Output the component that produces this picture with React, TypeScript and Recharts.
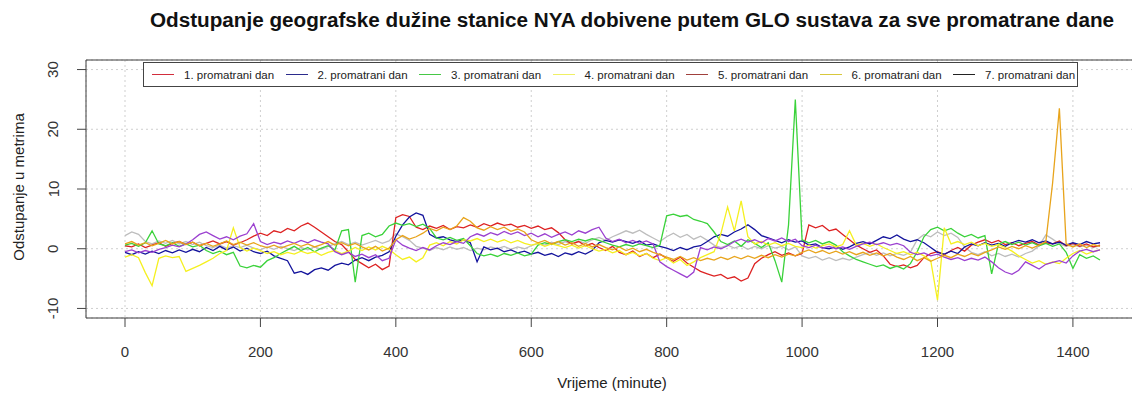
import React from 'react';
import { LineChart, Line, XAxis, YAxis, CartesianGrid, ReferenceArea } from 'recharts';

// minutes of the day, one reading every 10 minutes
const minutes = Array.from({ length: 145 }, (_, i) => i * 10);
const xTicks = [0, 200, 400, 600, 800, 1000, 1200, 1400];
const yTicks = [-10, 0, 10, 20, 30];

const legendLabels = [
  '1. promatrani dan',
  '2. promatrani dan',
  '3. promatrani dan',
  '4. promatrani dan',
  '5. promatrani dan',
  '6. promatrani dan',
  '7. promatrani dan',
];
const legendColors = ['#d22d3c', '#2b2b8c', '#46c846', '#f0f064', '#a0403c', '#d8c83c', '#222222'];

const redDay = [
  0.5, 0.3, 0.8, 0.2, 0.6, 1.0, 0.4, 0.9, 1.2, 0.7,
  1.1, 0.5, 0.9, 1.3, 0.8, 1.2, 0.6, 1.0, 1.5, 2.1,
  2.6, 2.2, 3.0, 2.7, 3.4, 3.0, 3.8, 4.3, 3.6, 2.8,
  2.0, 1.2, 0.7, -0.5, -1.8, -2.5, -3.2, -2.6, -3.5, -2.9,
  5.2, 5.7, 5.4, 3.6, 3.2, 3.8, 3.4, 3.9, 3.2, 3.7,
  3.5, 4.0, 3.6, 4.2, 3.8, 4.3, 3.9, 4.1, 3.6, 3.9,
  3.4, 3.8, 3.2, 3.5, 2.7, 1.5, 0.8, 1.2, 0.5, 0.9,
  0.2, -0.3, 0.4, -0.6, -1.0, -0.4, -1.3, -0.8, -1.5, -0.9,
  -1.6, -2.1, -1.4, -2.4, -3.1, -3.8, -4.2, -4.6, -4.3, -5.0,
  -4.7, -5.4, -4.9, -2.5, -1.6, -1.0, -0.5, -1.1, -0.7, -1.2,
  -0.8, 4.0, 3.5, 3.9, 3.0, 3.3, 2.4, 1.5, 0.6, 0.0,
  -0.6, -0.2, -1.2, -2.6, -3.0, -2.7, -3.2, -2.8, -1.5, -0.8,
  -0.5, -1.0, -0.3, 0.2, -0.4, 0.6, 1.1, 1.5, 1.0, 1.4,
  0.7, 1.0, 0.5, 0.9, 1.2, 0.6, 1.0, 0.8, 1.3, 0.5,
  0.9, 0.4, 0.8, 0.3, 0.6,
];

const navyDay = [
  -0.6, -1.0, -0.5, -0.9, -0.4, -0.8, -0.3, -0.7, -0.2, -0.6,
  -0.1, -0.5, 0.2, -0.3, 0.4, -0.2, 0.3, -0.4, 0.1, -0.5,
  -0.8, -0.4, -1.2, -1.6, -2.0, -4.1, -3.8, -4.3, -3.5, -3.2,
  -3.6, -2.8, -2.4, -2.7, -1.9, -1.5, -2.0, -1.4, -1.1, -0.5,
  2.1, 4.0, 5.3, 6.0, 5.6, 2.4, 1.8, 2.0, 1.5, 1.2,
  1.5, 1.0, -2.2, 0.3, -0.2, 0.1, -0.5, -0.2, -0.7, -0.4,
  -0.9, -0.6, -1.1, -0.8, -1.3, -0.7, -1.0, -0.5, -0.9, -0.3,
  1.0, 1.4, 1.1, 1.5, 1.2, 0.9, 1.3, 0.6, 0.8, 0.4,
  0.1, -0.3, 0.2, -0.2, 0.3, 0.5, 1.2, 2.0, 2.4, 2.1,
  2.8, 3.3, 4.0, 3.2, 2.2, 1.8, 1.4, 1.0, 1.5, 1.1,
  1.3, 0.6, 0.8, 0.2, 0.0, 0.4, -0.1, 0.3, 0.9, 1.2,
  0.8, 1.4, 2.0, 1.7, 2.3, 1.6, 1.2, 1.5, 1.0, 0.2,
  -0.6, -0.9, -0.4, -0.8, 0.3, 0.8, 0.5, 1.0, 0.6, 0.9,
  0.4, 1.0, 1.4, 1.1, 1.5, 1.0, 1.3, 0.8, 1.1, 0.6,
  1.0, 0.7, 1.2, 0.8, 1.0,
];

const greenDay = [
  0.6, 0.9, 0.4, 1.0, 3.0, 0.8, 0.5, 1.0, 0.4, 0.8,
  0.3, 0.6, -0.3, -0.8, -0.4, -1.0, -0.6, -2.9, -3.2, -2.8,
  -3.1, -2.0, -1.5, -0.8, -0.2, 0.4, -0.3, 0.2, -0.5, 0.1,
  0.5, -0.2, 3.0, 3.2, -5.6, 2.2, 2.6, 2.0, 2.4, 3.8,
  4.3, 3.9, 4.2, 3.7, 4.1, 3.4, 1.8, 1.5, 1.9, 1.4,
  1.7, 0.5, -0.8, -1.2, -0.9, -1.3, -0.8, -1.1, -0.7, -1.2,
  -0.9, 0.6, 1.0, 0.7, 1.2, 1.5, 1.2, 1.6, 1.3, 1.7,
  1.4, 1.0, 0.6, 0.3, 0.7, 0.4, 0.8, 0.5, 0.2, 0.6,
  5.5, 5.8, 5.4, 5.6, 4.9, 4.6, 4.2, 2.8, 1.2, 0.7,
  1.3, 0.4, 1.5, 0.9, 0.2, 1.0, -2.0, -5.6, 4.0, 25.0,
  1.5, 1.0, 1.4, 0.8, 1.2, 0.6, -0.5, -1.2, -1.8, -2.2,
  -2.6, -3.0, -2.7, -3.3, -2.9, -3.4, -2.5, -0.5, 2.0, 3.2,
  3.6, 3.0, 3.4, 2.6, 2.0, 2.4, 1.8, 2.2, -4.2, 0.8,
  1.2, 0.7, 1.1, 0.6, 1.0, 0.5, 0.9, 0.4, 0.8, -0.6,
  -3.3, -1.0, -1.6, -1.2, -1.9,
];

const yellowDay = [
  -1.4, -1.0, -1.5, -4.0, -6.2, -1.6, -1.2, -1.5, -1.3, -3.8,
  -3.3, -2.8, -2.2, -1.6, -0.8, -0.3, 3.5, 0.2, -0.4, 0.1,
  -0.3, -0.8, -0.5, -1.0, -0.6, -0.9, -0.4, -0.8, -0.5, -1.1,
  -0.6, -0.3, -0.8, -0.4, 0.2, -0.3, 0.3, -0.2, 0.4, -0.1,
  -1.0, -1.8, -1.4, -2.2, -1.5, 0.6, 1.0, 0.5, 1.2, 0.8,
  1.5, 1.3, 1.7, 1.2, 1.6, 1.1, 1.5, 1.0, 1.4, 0.9,
  0.6, 0.9, 0.4, 0.8, 0.5, 0.2, 0.6, 0.1, 0.5, 0.0,
  -0.4, -0.1, -0.7, -0.3, -1.0, -0.6, -1.2, -0.8, -1.6, -2.0,
  -1.5, -2.4, -1.8, -2.8, -2.2, -1.5, -1.0, -0.5, 2.5, 7.0,
  3.0, 8.0, 2.0, 0.8, 1.2, 0.6, 1.0, 0.5, 0.9, 0.4,
  0.2, 0.6, 0.1, 0.5, 0.8, 0.3, 0.7, 3.0, 0.6, 0.9,
  0.4, 0.8, 0.2, -0.3, -0.8, -0.5, -1.0, -0.6, -1.2, -2.0,
  -8.6, 3.5, 0.8, 1.2, 0.7, 1.1, 0.5, 0.9, 0.4, 0.7,
  0.2, -0.4, -1.2, -1.8, -2.4, -2.0, -2.6, -2.2, -2.5, -1.6,
  -0.8, -0.3, -0.9, -0.5, -0.2,
];

const purpleDay = [
  -0.5, -0.2, -0.7, -0.3, -0.6, -0.1, 0.2, 0.6, 0.3, 0.8,
  1.5, 2.4, 2.8, 2.2, 1.6, 2.0, 1.5, 2.1, 2.5, 4.2,
  1.2, 0.7, 1.1, 0.8, 1.3, 0.9, 1.4, 1.0, 1.5, 1.1,
  0.8, -0.5, -1.0, -0.6, -1.3, -0.9, -1.5, -1.0, -2.0, -1.6,
  1.5, 0.6, 0.1, -0.3, 0.2, -0.2, 0.5, 1.0, 0.7, 1.2,
  0.9, 2.0, 2.5, 2.1, 2.7, 2.3, 2.9, 2.4, 2.8, 2.2,
  2.6, 2.0, 2.5, 1.9, 2.4, 2.8, 2.3, 3.0, 2.6, 3.2,
  3.6, 1.8, 1.2, 1.6, 1.0, 1.4, 0.9, 1.3, 0.8, -2.2,
  -3.0, -3.6, -4.2, -4.8, -3.9, 0.2, -0.2, 0.3, 0.0, 0.5,
  1.2, 1.6, 1.1, 1.5, 1.0, 1.7, 1.3, 1.8, 1.2, 1.6,
  0.5, 0.2, 0.6, 0.1, 0.4, 0.0, 0.3, -0.1, 0.4, 0.8,
  1.1, 0.7, 1.0, 0.6, 0.9, 0.5, -0.6, -1.0, -0.7, -1.2,
  -0.9, -1.4, -1.8, -1.5, -2.0, -1.6, -1.9, -1.4, -2.2, -3.2,
  -3.9, -4.3, -3.6, -2.2, -2.8, -3.4, -2.6, -2.3, -2.0, -2.4,
  -1.2, -0.4, -0.1, -0.5, -0.2,
];

const orangeDay = [
  0.8, 1.2, 0.6, 1.0, 0.5, 0.9, 1.4, 0.8, 1.2, 0.7,
  1.1, 0.5, 0.9, 0.4, 0.8, 1.3, 0.7, 1.1, 0.6, 1.0,
  0.5, 0.2, 0.6, 0.1, 0.5, 0.9, 0.4, 0.8, 0.3, 0.7,
  1.2, 0.6, 1.0, 0.5, 0.9, 0.3, -0.2, 0.4, -0.4, 0.1,
  1.5, 2.2, 1.6, 2.0, 2.6, 3.4, 3.0, 3.6, 3.2, 3.8,
  5.2, 4.6, 3.5, 3.1, 3.7, 3.2, 3.6, 2.9, 3.3, 2.8,
  1.5, 1.0, 1.4, 0.8, 1.2, 0.6, 1.0, 0.4, 0.9, 0.3,
  0.7, 0.2, -0.2, 0.3, -0.3, 0.1, -0.5, -0.1, -0.6, -1.0,
  -1.4, -1.8, -1.3, -1.9, -1.5, -2.0, -1.6, -1.9, -1.4, -1.8,
  -1.3, -1.7, -1.2, -1.6, -1.1, -1.5, -1.0, -1.4, -0.9, -1.2,
  -0.6, -0.2, -0.7, -0.3, -0.8, -0.4, -0.9, -0.5, -1.0, -0.6,
  -1.1, -0.7, -1.2, -0.8, -1.4, -1.8, -1.3, -2.0, -1.5, -2.1,
  -1.6, -1.1, -1.5, -0.9, -1.3, -0.8, -1.2, -0.6, -0.2, 0.3,
  -0.1, 0.4, 0.0, 0.5, 0.1, 0.6, 1.2, 11.0, 23.5, 0.8,
  0.3, 0.8, 0.2, 0.7, 0.4,
];

const greyDay = [
  2.2, 2.8, 2.4, 1.2, 0.8, 1.3, 0.9, 1.4, 0.8, 1.2,
  0.7, 1.1, 0.5, 0.2, 0.6, 0.1, 0.5, 0.2, 0.6, 0.1,
  -0.2, 0.3, -0.1, 0.4, 0.0, -0.3, 0.2, -0.2, 0.3, -0.1,
  0.4, 0.8, 1.2, 0.7, 1.1, 0.6, 1.0, 1.4, 0.9, 1.3,
  2.5, 2.0, 1.4, 0.4, 0.1, -0.3, 0.2, -0.2, 0.3, -0.1,
  0.2, -0.3, 0.1, -0.2, 0.3, 0.0, 0.4, -0.1, 0.3, 0.0,
  0.5, 0.9, 0.6, 1.1, 0.7, 1.2, 0.8, 1.3, 0.9, 1.5,
  1.9, 1.4, 2.0, 2.5, 3.0, 2.6, 3.1, 2.4, 1.8, 1.2,
  2.0, 2.6, 1.9, 2.4, 1.6, 2.1, 1.4, 0.6, 0.2, 0.6,
  0.1, 0.5, -0.1, 0.4, 0.0, 0.5, 0.1, 0.4, -0.2, 0.3,
  -1.2, -1.6, -1.3, -1.9, -1.5, -2.0, -1.6, -1.9, -1.4, -1.0,
  -0.6, -1.1, -0.7, -1.2, -0.8, -1.1, -0.6, 1.5, 2.4, 2.0,
  2.8, 2.2, 2.6, 1.9, 0.3, -0.6, -1.0, -0.5, -1.2, -0.8,
  -1.3, -0.9, -1.4, -0.8, -0.4, 0.5, 2.3, 1.6, 0.8, 0.4,
  0.7, 0.3, 0.6, 0.2, 0.5,
];

// drawing order: first is at the bottom
const series = [
  { key: 'grey', values: greyDay, color: '#bdbdbd' },
  { key: 'red', values: redDay, color: '#dd2222' },
  { key: 'navy', values: navyDay, color: '#13139c' },
  { key: 'green', values: greenDay, color: '#3ad23a' },
  { key: 'yellow', values: yellowDay, color: '#f5f020' },
  { key: 'purple', values: purpleDay, color: '#9b40d0' },
  { key: 'orange', values: orangeDay, color: '#e8a41c' },
];

const data = minutes.map((m, i) => {
  const row: Record<string, number> = { m };
  series.forEach((s) => {
    row[s.key] = s.values[i];
  });
  return row;
});

const FONT = '"Liberation Sans", Arial, sans-serif';

const YTick = (props: any) => {
  const { y, payload } = props;
  const cx = 53;
  return (
    <text
      x={cx}
      y={y}
      transform={`rotate(-90 ${cx} ${y})`}
      textAnchor="middle"
      dominantBaseline="central"
      fontSize={15}
      fill="#333"
      fontFamily={FONT}
    >
      {payload.value}
    </text>
  );
};

const App = () => {
  return (
    <div
      style={{
        position: 'absolute',
        left: 0,
        top: 0,
        width: 1132,
        height: 403,
        overflow: 'hidden',
        background: '#fff',
        fontFamily: FONT,
      }}
    >
      <LineChart
        width={1150}
        height={403}
        data={data}
        margin={{ top: 60, right: 11, bottom: 35, left: 26 }}
      >
        <CartesianGrid stroke="#cfcfcf" strokeDasharray="2 3" />
        <XAxis
          dataKey="m"
          type="number"
          domain={[-57.6, 1497.6]}
          ticks={xTicks}
          allowDataOverflow
          height={50}
          axisLine={false}
          tickSize={9}
          tickLine={{ stroke: '#444' }}
          tick={{ fontSize: 15, fill: '#333', fontFamily: FONT }}
          tickMargin={19}
          interval={0}
        />
        <YAxis
          type="number"
          domain={[-11.6, 31.6]}
          ticks={yTicks}
          allowDataOverflow
          width={60}
          axisLine={false}
          tickSize={9}
          tickLine={{ stroke: '#444' }}
          tick={<YTick />}
          interval={0}
        />
        <ReferenceArea
          x1={-57.6}
          x2={1497.6}
          y1={-11.6}
          y2={31.6}
          fill="none"
          stroke="#3c3c3c"
          strokeWidth={1}
        />
        {series.map((s) => (
          <Line
            key={s.key}
            dataKey={s.key}
            type="linear"
            stroke={s.color}
            strokeWidth={1.3}
            dot={false}
            isAnimationActive={false}
          />
        ))}
      </LineChart>

      <div
        style={{
          position: 'absolute',
          left: 0,
          width: 1264,
          top: 8,
          textAlign: 'center',
          fontWeight: 'bold',
          fontSize: 20.7,
          color: '#111',
          whiteSpace: 'nowrap',
        }}
      >
        Odstupanje geografske dužine stanice NYA dobivene putem GLO sustava za sve promatrane dane
      </div>

      <div
        style={{
          position: 'absolute',
          left: 0,
          width: 1224,
          top: 374,
          textAlign: 'center',
          fontSize: 15,
          color: '#222',
        }}
      >
        Vrijeme (minute)
      </div>

      <div
        style={{
          position: 'absolute',
          left: 18,
          top: 187,
          transform: 'translate(-50%, -50%) rotate(-90deg)',
          whiteSpace: 'nowrap',
          fontSize: 15,
          color: '#222',
        }}
      >
        Odstupanje u metrima
      </div>

      <div
        style={{
          position: 'absolute',
          left: 143,
          top: 62,
          width: 935,
          height: 25,
          border: '1px solid #444',
          background: '#fff',
          boxSizing: 'border-box',
        }}
      >
        {legendLabels.map((label, i) => (
          <div
            key={label}
            style={{
              position: 'absolute',
              left: 8 + i * 133.5,
              top: 0,
              height: 23,
              display: 'flex',
              alignItems: 'center',
              fontSize: 11.5,
              color: '#222',
              whiteSpace: 'nowrap',
            }}
          >
            <span
              style={{
                display: 'inline-block',
                width: 22,
                height: 0,
                borderTop: `1px solid ${legendColors[i]}`,
                marginRight: 10,
              }}
            />
            {label}
          </div>
        ))}
      </div>
    </div>
  );
};

export default App;
